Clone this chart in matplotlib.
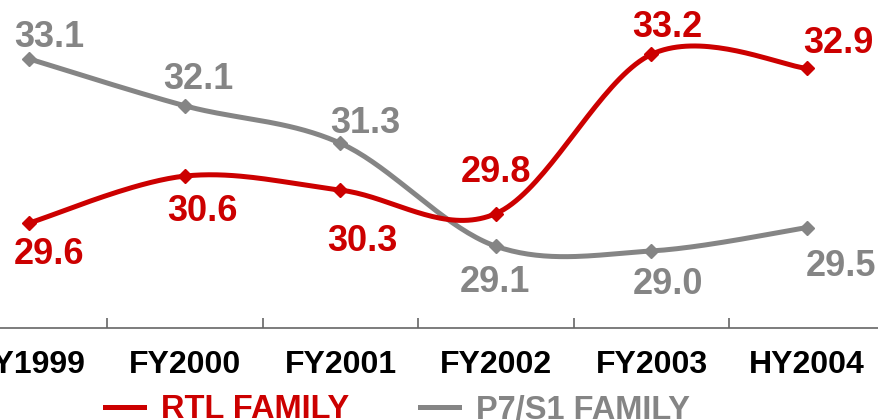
import numpy as np
import matplotlib
matplotlib.use("Agg")
import matplotlib.pyplot as plt
from matplotlib.lines import Line2D

categories = ["FY1999", "FY2000", "FY2001", "FY2002", "FY2003", "HY2004"]
rtl_family = [29.6, 30.6, 30.3, 29.8, 33.2, 32.9]
p7s1_family = [33.1, 32.1, 31.3, 29.1, 29.0, 29.5]
series_names = ["RTL FAMILY", "P7/S1 FAMILY"]

RED = "#CC0000"
GRAY = "#858585"

# label centre offsets in pixels (dx, dy up-positive) relative to each point
rtl_offsets = [(20, -28.5), (17, -32), (22, -47.5), (0, 44.5), (16, 30), (31, 28.5)]
p7_offsets = [(20, 25), (13.5, 30), (25, 23.5), (-1, -32.5), (17, -30.5), (34, -35.5)]


def smooth(xs, ys, n=40):
    """Excel-like smoothed line (Catmull-Rom Bezier)."""
    P = np.column_stack([xs, ys]).astype(float)
    P = np.vstack([P[0], P, P[-1]])
    out = []
    t = np.linspace(0, 1, n)
    for i in range(1, len(P) - 2):
        p0, p1, p2, p3 = P[i - 1], P[i], P[i + 1], P[i + 2]
        c1 = p1 + (p2 - p0) / 6.0
        c2 = p2 - (p3 - p1) / 6.0
        seg = ((1 - t) ** 3)[:, None] * p1 + (3 * (1 - t) ** 2 * t)[:, None] * c1 \
            + (3 * (1 - t) * t ** 2)[:, None] * c2 + (t ** 3)[:, None] * p2
        out.append(seg if i == 1 else seg[1:])
    out = np.vstack(out)
    return out[:, 0], out[:, 1]


fig = plt.figure(figsize=(8.79, 4.2), dpi=100)
W, H = 879, 420
left_px, right_px = -48.25, 884.75
bottom_px = 328
ax = fig.add_axes([left_px / W, (H - bottom_px) / H, (right_px - left_px) / W, bottom_px / H])

x = np.arange(len(categories))
font = "Liberation Sans"
label_size = 26
half_digit_px = 0.716 * label_size / 0.72 / 2

for vals, color, offs, name in [(p7s1_family, GRAY, p7_offsets, series_names[1]),
                                 (rtl_family, RED, rtl_offsets, series_names[0])]:
    sx, sy = smooth(x, vals)
    ax.plot(sx, sy, color=color, lw=3.6, solid_capstyle="round", zorder=3)
    ax.plot(x, vals, linestyle="none", marker="D", ms=7, color=color, zorder=4)
    for xi, v, (dx, dy) in zip(x, vals, offs):
        ax.annotate(f"{v:.1f}", (xi, v), xytext=(dx * 0.72, (dy - half_digit_px) * 0.72),
                    textcoords="offset points", ha="center", va="baseline",
                    fontsize=label_size, fontweight="bold", color=color, family=font)

ax.set_xlim(-0.5, 5.5)
ax.set_ylim(27.355, 34.36)
for s in ["top", "right", "left"]:
    ax.spines[s].set_visible(False)
ax.spines["bottom"].set_color("#666666")
ax.spines["bottom"].set_linewidth(1.2)
ax.set_yticks([])
ax.set_xticks(np.arange(0.5, 5.5, 1.0))
ax.set_xticklabels([])
ax.set_xticks(x, minor=True)
ax.set_xticklabels(categories, minor=True, fontsize=23, fontweight="bold", family=font)
ax.tick_params(axis="x", which="major", direction="in", length=7, color="#666666", width=1.2)
ax.tick_params(axis="x", which="minor", length=0, pad=16)

handles = [Line2D([], [], color=RED, lw=3.6), Line2D([], [], color=GRAY, lw=3.6)]
leg = fig.legend(handles, series_names, loc="center left", bbox_to_anchor=(105 / W, 1 - 410 / H),
                 ncol=2, frameon=False, handlelength=1.2, handletextpad=0.52,
                 columnspacing=2.15, borderaxespad=0, borderpad=0,
                 prop={"family": font, "weight": "bold", "size": 23.5})
for txt, c in zip(leg.get_texts(), [RED, GRAY]):
    txt.set_color(c)

fig.savefig("out.png", dpi=100)
